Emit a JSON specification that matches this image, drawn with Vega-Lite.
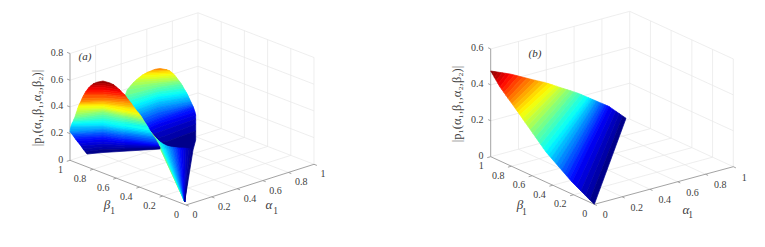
{"$schema":"https://vega.github.io/schema/vega-lite/v6.json","width":765,"height":247,"padding":0,"autosize":{"type":"fit","contains":"padding"},"background":"white","config":{"view":{"stroke":null}},
"datasets":{
"lines":[
{"p":"a","k":"g","a1":0.2,"b1":0,"z1":0,"a2":0.2,"b2":1,"z2":0},{"p":"a","k":"g","a1":0.4,"b1":0,"z1":0,"a2":0.4,"b2":1,"z2":0},{"p":"a","k":"g","a1":0.6,"b1":0,"z1":0,"a2":0.6,"b2":1,"z2":0},{"p":"a","k":"g","a1":0.8,"b1":0,"z1":0,"a2":0.8,"b2":1,"z2":0},
{"p":"a","k":"g","a1":0,"b1":0.2,"z1":0,"a2":1,"b2":0.2,"z2":0},{"p":"a","k":"g","a1":0,"b1":0.4,"z1":0,"a2":1,"b2":0.4,"z2":0},{"p":"a","k":"g","a1":0,"b1":0.6,"z1":0,"a2":1,"b2":0.6,"z2":0},{"p":"a","k":"g","a1":0,"b1":0.8,"z1":0,"a2":1,"b2":0.8,"z2":0},
{"p":"a","k":"g","a1":0.2,"b1":1,"z1":0,"a2":0.2,"b2":1,"z2":0.8},{"p":"a","k":"g","a1":0.4,"b1":1,"z1":0,"a2":0.4,"b2":1,"z2":0.8},{"p":"a","k":"g","a1":0.6,"b1":1,"z1":0,"a2":0.6,"b2":1,"z2":0.8},{"p":"a","k":"g","a1":0.8,"b1":1,"z1":0,"a2":0.8,"b2":1,"z2":0.8},{"p":"a","k":"g","a1":1,"b1":1,"z1":0,"a2":1,"b2":1,"z2":0.8},
{"p":"a","k":"g","a1":0,"b1":1,"z1":0,"a2":1,"b2":1,"z2":0},{"p":"a","k":"g","a1":0,"b1":1,"z1":0.2,"a2":1,"b2":1,"z2":0.2},{"p":"a","k":"g","a1":0,"b1":1,"z1":0.4,"a2":1,"b2":1,"z2":0.4},{"p":"a","k":"g","a1":0,"b1":1,"z1":0.6,"a2":1,"b2":1,"z2":0.6},{"p":"a","k":"g","a1":0,"b1":1,"z1":0.8,"a2":1,"b2":1,"z2":0.8},
{"p":"a","k":"g","a1":1,"b1":0,"z1":0,"a2":1,"b2":0,"z2":0.8},{"p":"a","k":"g","a1":1,"b1":0.2,"z1":0,"a2":1,"b2":0.2,"z2":0.8},{"p":"a","k":"g","a1":1,"b1":0.4,"z1":0,"a2":1,"b2":0.4,"z2":0.8},{"p":"a","k":"g","a1":1,"b1":0.6,"z1":0,"a2":1,"b2":0.6,"z2":0.8},{"p":"a","k":"g","a1":1,"b1":0.8,"z1":0,"a2":1,"b2":0.8,"z2":0.8},
{"p":"a","k":"g","a1":1,"b1":0,"z1":0,"a2":1,"b2":1,"z2":0},{"p":"a","k":"g","a1":1,"b1":0,"z1":0.2,"a2":1,"b2":1,"z2":0.2},{"p":"a","k":"g","a1":1,"b1":0,"z1":0.4,"a2":1,"b2":1,"z2":0.4},{"p":"a","k":"g","a1":1,"b1":0,"z1":0.6,"a2":1,"b2":1,"z2":0.6},{"p":"a","k":"g","a1":1,"b1":0,"z1":0.8,"a2":1,"b2":1,"z2":0.8},
{"p":"b","k":"g","a1":0.2,"b1":0,"z1":0,"a2":0.2,"b2":1,"z2":0},{"p":"b","k":"g","a1":0.4,"b1":0,"z1":0,"a2":0.4,"b2":1,"z2":0},{"p":"b","k":"g","a1":0.6,"b1":0,"z1":0,"a2":0.6,"b2":1,"z2":0},{"p":"b","k":"g","a1":0.8,"b1":0,"z1":0,"a2":0.8,"b2":1,"z2":0},
{"p":"b","k":"g","a1":0,"b1":0.2,"z1":0,"a2":1,"b2":0.2,"z2":0},{"p":"b","k":"g","a1":0,"b1":0.4,"z1":0,"a2":1,"b2":0.4,"z2":0},{"p":"b","k":"g","a1":0,"b1":0.6,"z1":0,"a2":1,"b2":0.6,"z2":0},{"p":"b","k":"g","a1":0,"b1":0.8,"z1":0,"a2":1,"b2":0.8,"z2":0},
{"p":"b","k":"g","a1":0.2,"b1":1,"z1":0,"a2":0.2,"b2":1,"z2":0.6},{"p":"b","k":"g","a1":0.4,"b1":1,"z1":0,"a2":0.4,"b2":1,"z2":0.6},{"p":"b","k":"g","a1":0.6,"b1":1,"z1":0,"a2":0.6,"b2":1,"z2":0.6},{"p":"b","k":"g","a1":0.8,"b1":1,"z1":0,"a2":0.8,"b2":1,"z2":0.6},{"p":"b","k":"g","a1":1,"b1":1,"z1":0,"a2":1,"b2":1,"z2":0.6},
{"p":"b","k":"g","a1":0,"b1":1,"z1":0,"a2":1,"b2":1,"z2":0},{"p":"b","k":"g","a1":0,"b1":1,"z1":0.2,"a2":1,"b2":1,"z2":0.2},{"p":"b","k":"g","a1":0,"b1":1,"z1":0.4,"a2":1,"b2":1,"z2":0.4},{"p":"b","k":"g","a1":0,"b1":1,"z1":0.6,"a2":1,"b2":1,"z2":0.6},
{"p":"b","k":"g","a1":1,"b1":0,"z1":0,"a2":1,"b2":0,"z2":0.6},{"p":"b","k":"g","a1":1,"b1":0.2,"z1":0,"a2":1,"b2":0.2,"z2":0.6},{"p":"b","k":"g","a1":1,"b1":0.4,"z1":0,"a2":1,"b2":0.4,"z2":0.6},{"p":"b","k":"g","a1":1,"b1":0.6,"z1":0,"a2":1,"b2":0.6,"z2":0.6},{"p":"b","k":"g","a1":1,"b1":0.8,"z1":0,"a2":1,"b2":0.8,"z2":0.6},
{"p":"b","k":"g","a1":1,"b1":0,"z1":0,"a2":1,"b2":1,"z2":0},{"p":"b","k":"g","a1":1,"b1":0,"z1":0.2,"a2":1,"b2":1,"z2":0.2},{"p":"b","k":"g","a1":1,"b1":0,"z1":0.4,"a2":1,"b2":1,"z2":0.4},{"p":"b","k":"g","a1":1,"b1":0,"z1":0.6,"a2":1,"b2":1,"z2":0.6},
{"p":"a","k":"t","a1":0,"b1":0,"z1":0,"a2":1,"b2":0,"z2":0},{"p":"a","k":"t","a1":0,"b1":0,"z1":0,"a2":0,"b2":1,"z2":0},{"p":"a","k":"t","a1":0,"b1":1,"z1":0,"a2":0,"b2":1,"z2":0.8},
{"p":"a","k":"t","a1":0,"b1":0,"z1":0,"a2":0,"b2":-0.025,"z2":0},{"p":"a","k":"t","a1":0.2,"b1":0,"z1":0,"a2":0.2,"b2":-0.025,"z2":0},{"p":"a","k":"t","a1":0.4,"b1":0,"z1":0,"a2":0.4,"b2":-0.025,"z2":0},{"p":"a","k":"t","a1":0.6,"b1":0,"z1":0,"a2":0.6,"b2":-0.025,"z2":0},{"p":"a","k":"t","a1":0.8,"b1":0,"z1":0,"a2":0.8,"b2":-0.025,"z2":0},{"p":"a","k":"t","a1":1,"b1":0,"z1":0,"a2":1,"b2":-0.025,"z2":0},
{"p":"a","k":"t","a1":0,"b1":0.2,"z1":0,"a2":-0.025,"b2":0.2,"z2":0},{"p":"a","k":"t","a1":0,"b1":0.4,"z1":0,"a2":-0.025,"b2":0.4,"z2":0},{"p":"a","k":"t","a1":0,"b1":0.6,"z1":0,"a2":-0.025,"b2":0.6,"z2":0},{"p":"a","k":"t","a1":0,"b1":0.8,"z1":0,"a2":-0.025,"b2":0.8,"z2":0},{"p":"a","k":"t","a1":0,"b1":1,"z1":0,"a2":-0.025,"b2":1,"z2":0},
{"p":"a","k":"t","a1":0,"b1":1,"z1":0.2,"a2":0,"b2":1.025,"z2":0.2},{"p":"a","k":"t","a1":0,"b1":1,"z1":0.4,"a2":0,"b2":1.025,"z2":0.4},{"p":"a","k":"t","a1":0,"b1":1,"z1":0.6,"a2":0,"b2":1.025,"z2":0.6},{"p":"a","k":"t","a1":0,"b1":1,"z1":0.8,"a2":0,"b2":1.025,"z2":0.8},
{"p":"b","k":"t","a1":0,"b1":0,"z1":0,"a2":1,"b2":0,"z2":0},{"p":"b","k":"t","a1":0,"b1":0,"z1":0,"a2":0,"b2":1,"z2":0},{"p":"b","k":"t","a1":0,"b1":1,"z1":0,"a2":0,"b2":1,"z2":0.6},
{"p":"b","k":"t","a1":0,"b1":0,"z1":0,"a2":0,"b2":-0.025,"z2":0},{"p":"b","k":"t","a1":0.2,"b1":0,"z1":0,"a2":0.2,"b2":-0.025,"z2":0},{"p":"b","k":"t","a1":0.4,"b1":0,"z1":0,"a2":0.4,"b2":-0.025,"z2":0},{"p":"b","k":"t","a1":0.6,"b1":0,"z1":0,"a2":0.6,"b2":-0.025,"z2":0},{"p":"b","k":"t","a1":0.8,"b1":0,"z1":0,"a2":0.8,"b2":-0.025,"z2":0},{"p":"b","k":"t","a1":1,"b1":0,"z1":0,"a2":1,"b2":-0.025,"z2":0},
{"p":"b","k":"t","a1":0,"b1":0.2,"z1":0,"a2":-0.025,"b2":0.2,"z2":0},{"p":"b","k":"t","a1":0,"b1":0.4,"z1":0,"a2":-0.025,"b2":0.4,"z2":0},{"p":"b","k":"t","a1":0,"b1":0.6,"z1":0,"a2":-0.025,"b2":0.6,"z2":0},{"p":"b","k":"t","a1":0,"b1":0.8,"z1":0,"a2":-0.025,"b2":0.8,"z2":0},{"p":"b","k":"t","a1":0,"b1":1,"z1":0,"a2":-0.025,"b2":1,"z2":0},
{"p":"b","k":"t","a1":0,"b1":1,"z1":0.2,"a2":0,"b2":1.025,"z2":0.2},{"p":"b","k":"t","a1":0,"b1":1,"z1":0.4,"a2":0,"b2":1.025,"z2":0.4},{"p":"b","k":"t","a1":0,"b1":1,"z1":0.6,"a2":0,"b2":1.025,"z2":0.6}
],
"ticks":[
{"p":"a","k":"alpha","a":0,"b":0,"z":0,"t":"0"},{"p":"a","k":"alpha","a":0.2,"b":0,"z":0,"t":"0.2"},{"p":"a","k":"alpha","a":0.4,"b":0,"z":0,"t":"0.4"},{"p":"a","k":"alpha","a":0.6,"b":0,"z":0,"t":"0.6"},{"p":"a","k":"alpha","a":0.8,"b":0,"z":0,"t":"0.8"},{"p":"a","k":"alpha","a":1,"b":0,"z":0,"t":"1"},
{"p":"a","k":"beta","a":0,"b":0,"z":0,"t":"0"},{"p":"a","k":"beta","a":0,"b":0.2,"z":0,"t":"0.2"},{"p":"a","k":"beta","a":0,"b":0.4,"z":0,"t":"0.4"},{"p":"a","k":"beta","a":0,"b":0.6,"z":0,"t":"0.6"},{"p":"a","k":"beta","a":0,"b":0.8,"z":0,"t":"0.8"},{"p":"a","k":"beta","a":0,"b":1,"z":0,"t":"1"},
{"p":"a","k":"z","a":0,"b":1,"z":0,"t":"0"},{"p":"a","k":"z","a":0,"b":1,"z":0.2,"t":"0.2"},{"p":"a","k":"z","a":0,"b":1,"z":0.4,"t":"0.4"},{"p":"a","k":"z","a":0,"b":1,"z":0.6,"t":"0.6"},{"p":"a","k":"z","a":0,"b":1,"z":0.8,"t":"0.8"},
{"p":"b","k":"alpha","a":0,"b":0,"z":0,"t":"0"},{"p":"b","k":"alpha","a":0.2,"b":0,"z":0,"t":"0.2"},{"p":"b","k":"alpha","a":0.4,"b":0,"z":0,"t":"0.4"},{"p":"b","k":"alpha","a":0.6,"b":0,"z":0,"t":"0.6"},{"p":"b","k":"alpha","a":0.8,"b":0,"z":0,"t":"0.8"},{"p":"b","k":"alpha","a":1,"b":0,"z":0,"t":"1"},
{"p":"b","k":"beta","a":0,"b":0,"z":0,"t":"0"},{"p":"b","k":"beta","a":0,"b":0.2,"z":0,"t":"0.2"},{"p":"b","k":"beta","a":0,"b":0.4,"z":0,"t":"0.4"},{"p":"b","k":"beta","a":0,"b":0.6,"z":0,"t":"0.6"},{"p":"b","k":"beta","a":0,"b":0.8,"z":0,"t":"0.8"},{"p":"b","k":"beta","a":0,"b":1,"z":0,"t":"1"},
{"p":"b","k":"z","a":0,"b":1,"z":0,"t":"0"},{"p":"b","k":"z","a":0,"b":1,"z":0.2,"t":"0.2"},{"p":"b","k":"z","a":0,"b":1,"z":0.4,"t":"0.4"},{"p":"b","k":"z","a":0,"b":1,"z":0.6,"t":"0.6"}
],
"surface":[
{"c":0.74,"g":{"type":"Polygon","coordinates":[[[152,70.5],[155,69.3],[160,68.5],[167,69.8],[158,70.5],[152,70.5]]]}},
{"c":0.69,"g":{"type":"Polygon","coordinates":[[[152,70.5],[158,70.5],[167,69.8],[170,71],[158,72],[147,72.5],[152,70.5]]]}},
{"c":0.66,"g":{"type":"Polygon","coordinates":[[[147,72.5],[158,72],[170,71],[172,72.7],[158,73.5],[144.5,74],[147,72.5]]]}},
{"c":0.64,"g":{"type":"Polygon","coordinates":[[[144.5,74],[158,73.5],[172,72.7],[173.5,74],[158,75],[142,75.3],[144.5,74]]]}},
{"c":0.61,"g":{"type":"Polygon","coordinates":[[[142,75.3],[158,75],[173.5,74],[175,75.5],[158,77],[138,78.5],[142,75.3]]]}},
{"c":0.59,"g":{"type":"Polygon","coordinates":[[[138,78.5],[158,77],[175,75.5],[176.5,77.5],[158,79],[136,80.2],[138,78.5]]]}},
{"c":0.56,"g":{"type":"Polygon","coordinates":[[[136,80.2],[158,79],[176.5,77.5],[178,79.5],[158,81],[133,83],[136,80.2]]]}},
{"c":0.54,"g":{"type":"Polygon","coordinates":[[[133,83],[158,81],[178,79.5],[179,80.8],[158,83],[130,86.5],[133,83]]]}},
{"c":0.51,"g":{"type":"Polygon","coordinates":[[[130,86.5],[158,83],[179,80.8],[180,82],[158,85],[127,90.3],[130,86.5]]]}},
{"c":0.49,"g":{"type":"Polygon","coordinates":[[[127,90.3],[158,85],[180,82],[181.3,84],[158,87.4],[125,96],[127,90.3]]]}},
{"c":0.46,"g":{"type":"Polygon","coordinates":[[[125,96],[158,87.4],[181.3,84],[182.6,86],[158,89.8],[125,99],[125,96]]]}},
{"c":0.44,"g":{"type":"Polygon","coordinates":[[[125,99],[158,89.8],[182.6,86],[184,88.6],[158,92.2],[125,102],[125,99]]]}},
{"c":0.41,"g":{"type":"Polygon","coordinates":[[[125,102],[158,92.2],[184,88.6],[185.3,90.8],[158,94.6],[125,105],[125,102]]]}},
{"c":0.39,"g":{"type":"Polygon","coordinates":[[[125,105],[158,94.6],[185.3,90.8],[186.7,93],[158,97],[125,108],[125,105]]]}},
{"c":0.36,"g":{"type":"Polygon","coordinates":[[[125,108],[158,97],[186.7,93],[187.7,95],[158,99.6],[125,111],[125,108]]]}},
{"c":0.34,"g":{"type":"Polygon","coordinates":[[[125,111],[158,99.6],[187.7,95],[188.7,97.2],[158,102.2],[125,114],[125,111]]]}},
{"c":0.31,"g":{"type":"Polygon","coordinates":[[[125,114],[158,102.2],[188.7,97.2],[189.7,99.3],[158,104.8],[125,117],[125,114]]]}},
{"c":0.29,"g":{"type":"Polygon","coordinates":[[[125,117],[158,104.8],[189.7,99.3],[190.7,101.5],[158,107.4],[125,120],[125,117]]]}},
{"c":0.26,"g":{"type":"Polygon","coordinates":[[[125,120],[158,107.4],[190.7,101.5],[191.5,103.2],[158,110],[125,123],[125,120]]]}},
{"c":0.24,"g":{"type":"Polygon","coordinates":[[[125,123],[158,110],[191.5,103.2],[192.2,104.7],[158,112.8],[125,126],[125,123]]]}},
{"c":0.21,"g":{"type":"Polygon","coordinates":[[[125,126],[158,112.8],[192.2,104.7],[192.8,106],[158,115.6],[125,129],[125,126]]]}},
{"c":0.19,"g":{"type":"Polygon","coordinates":[[[125,129],[158,115.6],[192.8,106],[193.3,107],[158,118.4],[125,132],[125,129]]]}},
{"c":0.16,"g":{"type":"Polygon","coordinates":[[[125,132],[158,118.4],[193.3,107],[194,109],[158,121.2],[125,135],[125,132]]]}},
{"c":0.14,"g":{"type":"Polygon","coordinates":[[[125,135],[158,121.2],[194,109],[195,112],[158,124],[125,138],[125,135]]]}},
{"c":0.11,"g":{"type":"Polygon","coordinates":[[[125,138],[158,124],[195,112],[195.7,115],[160,127],[125,141],[125,138]]]}},
{"c":0.09,"g":{"type":"Polygon","coordinates":[[[125,141],[160,127],[195.7,115],[195.7,119],[162,131],[125,144],[125,141]]]}},
{"c":0.06,"g":{"type":"Polygon","coordinates":[[[125,144],[162,131],[195.7,119],[195.7,124],[165,136],[125,147],[125,144]]]}},
{"c":0.04,"g":{"type":"Polygon","coordinates":[[[125,147],[165,136],[195.7,124],[195.7,131],[168,141],[125,150],[125,147]]]}},
{"c":0.01,"g":{"type":"Polygon","coordinates":[[[125,150],[168,141],[195.7,131],[195.7,140],[193,150],[170,148],[125,150]]]}},
{"c":0.56,"g":{"type":"Polygon","coordinates":[[[150,131],[163,153],[176.7,180],[184.7,201.7],[155,137],[150,131]]]}},
{"c":0.48,"g":{"type":"Polygon","coordinates":[[[184.7,201.7],[155,137],[157,139],[184.7,201.7]]]}},
{"c":0.43,"g":{"type":"Polygon","coordinates":[[[184.7,201.7],[157,139],[159,141],[184.7,201.7]]]}},
{"c":0.39,"g":{"type":"Polygon","coordinates":[[[184.7,201.7],[159,141],[161,142.7],[184.7,201.7]]]}},
{"c":0.36,"g":{"type":"Polygon","coordinates":[[[184.7,201.7],[161,142.7],[163,144],[184.7,201.7]]]}},
{"c":0.34,"g":{"type":"Polygon","coordinates":[[[184.7,201.7],[163,144],[165,145],[184.7,201.7]]]}},
{"c":0.31,"g":{"type":"Polygon","coordinates":[[[184.7,201.7],[165,145],[167,146],[184.7,201.7]]]}},
{"c":0.29,"g":{"type":"Polygon","coordinates":[[[184.7,201.7],[167,146],[169,146.6],[184.7,201.7]]]}},
{"c":0.26,"g":{"type":"Polygon","coordinates":[[[184.7,201.7],[169,146.6],[171,147],[184.7,201.7]]]}},
{"c":0.24,"g":{"type":"Polygon","coordinates":[[[184.7,201.7],[171,147],[173,147.3],[184.7,201.7]]]}},
{"c":0.21,"g":{"type":"Polygon","coordinates":[[[184.7,201.7],[173,147.3],[175,147.5],[184.7,201.7]]]}},
{"c":0.19,"g":{"type":"Polygon","coordinates":[[[184.7,201.7],[175,147.5],[177,147.8],[184.7,201.7]]]}},
{"c":0.16,"g":{"type":"Polygon","coordinates":[[[184.7,201.7],[177,147.8],[179,148],[184.7,201.7]]]}},
{"c":0.14,"g":{"type":"Polygon","coordinates":[[[184.7,201.7],[179,148],[181,148],[184.7,201.7]]]}},
{"c":0.11,"g":{"type":"Polygon","coordinates":[[[184.7,201.7],[181,148],[183.5,148],[184.7,201.7]]]}},
{"c":0.09,"g":{"type":"Polygon","coordinates":[[[184.7,201.7],[183.5,148],[186,148.3],[184.7,201.7]]]}},
{"c":0.06,"g":{"type":"Polygon","coordinates":[[[184.7,201.7],[186,148.3],[188.5,148.6],[184.7,201.7]]]}},
{"c":0.04,"g":{"type":"Polygon","coordinates":[[[184.7,201.7],[188.5,148.6],[191,149],[184.7,201.7]]]}},
{"c":0.01,"g":{"type":"Polygon","coordinates":[[[184.7,201.7],[191,149],[193,150],[184.7,201.7]]]}},
{"c":0.98,"g":{"type":"Polygon","coordinates":[[[96.7,82.3],[103,81],[110,83],[114,85],[103,83.5],[93,84],[96.7,82.3]]]}},
{"c":0.945,"g":{"type":"Polygon","coordinates":[[[93,84],[103,83.5],[114,85],[117,87.5],[103,85.5],[90.5,86],[93,84]]]}},
{"c":0.915,"g":{"type":"Polygon","coordinates":[[[90.5,86],[103,85.5],[117,87.5],[120,90],[103,87.5],[88.5,88],[90.5,86]]]}},
{"c":0.89,"g":{"type":"Polygon","coordinates":[[[88.5,88],[103,87.5],[120,90],[122,92.5],[103,90],[87,90],[88.5,88]]]}},
{"c":0.86,"g":{"type":"Polygon","coordinates":[[[87,90],[103,90],[122,92.5],[124.5,94.5],[103,92],[85.5,92],[87,90]]]}},
{"c":0.84,"g":{"type":"Polygon","coordinates":[[[85.5,92],[103,92],[124.5,94.5],[126,96.5],[103,94],[84.5,94],[85.5,92]]]}},
{"c":0.81,"g":{"type":"Polygon","coordinates":[[[84.5,94],[103,94],[126,96.5],[127,98],[103,95.5],[83.5,95.5],[84.5,94]]]}},
{"c":0.79,"g":{"type":"Polygon","coordinates":[[[83.5,95.5],[103,95.5],[127,98],[128.5,100],[103,98],[82,98.5],[83.5,95.5]]]}},
{"c":0.76,"g":{"type":"Polygon","coordinates":[[[82,98.5],[103,98],[128.5,100],[130,101.7],[103,100],[81,101],[82,98.5]]]}},
{"c":0.74,"g":{"type":"Polygon","coordinates":[[[81,101],[103,100],[130,101.7],[131.5,103.5],[103,101.3],[80.3,102.5],[81,101]]]}},
{"c":0.71,"g":{"type":"Polygon","coordinates":[[[80.3,102.5],[103,101.3],[131.5,103.5],[133,106],[103,102.5],[79.8,103.5],[80.3,102.5]]]}},
{"c":0.69,"g":{"type":"Polygon","coordinates":[[[79.8,103.5],[103,102.5],[133,106],[134.5,108],[103,104],[79.3,104.5],[79.8,103.5]]]}},
{"c":0.66,"g":{"type":"Polygon","coordinates":[[[79.3,104.5],[103,104],[134.5,108],[136,110],[103,105],[78.8,105.6],[79.3,104.5]]]}},
{"c":0.64,"g":{"type":"Polygon","coordinates":[[[78.8,105.6],[103,105],[136,110],[139,113.5],[103,106.5],[78.3,106.7],[78.8,105.6]]]}},
{"c":0.61,"g":{"type":"Polygon","coordinates":[[[78.3,106.7],[103,106.5],[139,113.5],[140.5,115.5],[103,108],[77.6,108.7],[78.3,106.7]]]}},
{"c":0.59,"g":{"type":"Polygon","coordinates":[[[77.6,108.7],[103,108],[140.5,115.5],[141.5,117],[103,109.3],[77,110.7],[77.6,108.7]]]}},
{"c":0.56,"g":{"type":"Polygon","coordinates":[[[77,110.7],[103,109.3],[141.5,117],[142.5,118.5],[103,110.5],[76.3,112.7],[77,110.7]]]}},
{"c":0.54,"g":{"type":"Polygon","coordinates":[[[76.3,112.7],[103,110.5],[142.5,118.5],[143.3,120],[103,111.7],[75.7,114.7],[76.3,112.7]]]}},
{"c":0.51,"g":{"type":"Polygon","coordinates":[[[75.7,114.7],[103,111.7],[143.3,120],[144,121],[103,113],[75,116.7],[75.7,114.7]]]}},
{"c":0.49,"g":{"type":"Polygon","coordinates":[[[75,116.7],[103,113],[144,121],[145,122.5],[103,115],[74.3,118.5],[75,116.7]]]}},
{"c":0.46,"g":{"type":"Polygon","coordinates":[[[74.3,118.5],[103,115],[145,122.5],[146,124],[103,117],[73.6,120],[74.3,118.5]]]}},
{"c":0.44,"g":{"type":"Polygon","coordinates":[[[73.6,120],[103,117],[146,124],[147,125.5],[103,119],[73,121.5],[73.6,120]]]}},
{"c":0.41,"g":{"type":"Polygon","coordinates":[[[73,121.5],[103,119],[147,125.5],[148,127],[103,121],[72.4,122.5],[73,121.5]]]}},
{"c":0.39,"g":{"type":"Polygon","coordinates":[[[72.4,122.5],[103,121],[148,127],[150,131],[103,123],[71.8,124],[72.4,122.5]]]}},
{"c":0.36,"g":{"type":"Polygon","coordinates":[[[71.8,124],[103,123],[150,131],[151,132.5],[103,125],[71.3,125.5],[71.8,124]]]}},
{"c":0.34,"g":{"type":"Polygon","coordinates":[[[71.3,125.5],[103,125],[151,132.5],[152,134],[103,126.5],[70.8,127],[71.3,125.5]]]}},
{"c":0.31,"g":{"type":"Polygon","coordinates":[[[70.8,127],[103,126.5],[152,134],[153,135.5],[103,128],[70.4,129],[70.8,127]]]}},
{"c":0.29,"g":{"type":"Polygon","coordinates":[[[70.4,129],[103,128],[153,135.5],[154,137],[103,129.5],[70,131.7],[70.4,129]]]}},
{"c":0.26,"g":{"type":"Polygon","coordinates":[[[70,131.7],[103,129.5],[154,137],[155,138.3],[103,131],[71,133],[70,131.7]]]}},
{"c":0.24,"g":{"type":"Polygon","coordinates":[[[71,133],[103,131],[155,138.3],[156,140],[103,132.5],[72,134.3],[71,133]]]}},
{"c":0.21,"g":{"type":"Polygon","coordinates":[[[72,134.3],[103,132.5],[156,140],[157,142],[103,134],[73,135.6],[72,134.3]]]}},
{"c":0.19,"g":{"type":"Polygon","coordinates":[[[73,135.6],[103,134],[157,142],[158,143.5],[103,136],[74.2,137.2],[73,135.6]]]}},
{"c":0.16,"g":{"type":"Polygon","coordinates":[[[74.2,137.2],[103,136],[158,143.5],[158.5,145],[103,137.5],[75.5,139],[74.2,137.2]]]}},
{"c":0.14,"g":{"type":"Polygon","coordinates":[[[75.5,139],[103,137.5],[158.5,145],[159,146],[103,139.5],[77,141],[75.5,139]]]}},
{"c":0.11,"g":{"type":"Polygon","coordinates":[[[77,141],[103,139.5],[159,146],[159.3,146.5],[103,142],[79,143.5],[77,141]]]}},
{"c":0.09,"g":{"type":"Polygon","coordinates":[[[79,143.5],[103,142],[159.3,146.5],[159.6,147],[103,144.5],[81,146],[79,143.5]]]}},
{"c":0.06,"g":{"type":"Polygon","coordinates":[[[81,146],[103,144.5],[159.6,147],[160,147.5],[103,147],[83,149],[81,146]]]}},
{"c":0.04,"g":{"type":"Polygon","coordinates":[[[83,149],[103,147],[160,147.5],[160,148],[103,149.5],[85,151.5],[83,149]]]}},
{"c":0.01,"g":{"type":"Polygon","coordinates":[[[85,151.5],[103,149.5],[160,148],[160,149],[103,152.5],[87,154],[85,151.5]]]}},
{"c":0.99,"g":{"type":"Polygon","coordinates":[[[490.7,71],[494.6,71.6],[492.6,74.2],[490.7,71]]]}},
{"c":0.96,"g":{"type":"Polygon","coordinates":[[[494.6,71.6],[498.4,72.2],[494.4,77.4],[492.6,74.2],[494.6,71.6]]]}},
{"c":0.94,"g":{"type":"Polygon","coordinates":[[[498.4,72.2],[502.3,72.8],[496.3,80.6],[494.4,77.4],[498.4,72.2]]]}},
{"c":0.91,"g":{"type":"Polygon","coordinates":[[[502.3,72.8],[506.1,73.4],[498.1,83.8],[496.3,80.6],[502.3,72.8]]]}},
{"c":0.89,"g":{"type":"Polygon","coordinates":[[[506.1,73.4],[510,74],[500,87],[498.1,83.8],[506.1,73.4]]]}},
{"c":0.86,"g":{"type":"Polygon","coordinates":[[[510,74],[514.3,75],[502,89.8],[500,87],[510,74]]]}},
{"c":0.84,"g":{"type":"Polygon","coordinates":[[[514.3,75],[518.5,76.1],[504,92.6],[502,89.8],[514.3,75]]]}},
{"c":0.81,"g":{"type":"Polygon","coordinates":[[[518.5,76.1],[522.8,77.2],[506,95.4],[504,92.6],[518.5,76.1]]]}},
{"c":0.79,"g":{"type":"Polygon","coordinates":[[[522.8,77.2],[527.1,78.3],[508,98.2],[506,95.4],[522.8,77.2]]]}},
{"c":0.76,"g":{"type":"Polygon","coordinates":[[[527.1,78.3],[531.4,79.4],[510,101],[508,98.2],[527.1,78.3]]]}},
{"c":0.74,"g":{"type":"Polygon","coordinates":[[[531.4,79.4],[535.6,80.4],[512,103.8],[510,101],[531.4,79.4]]]}},
{"c":0.71,"g":{"type":"Polygon","coordinates":[[[535.6,80.4],[539.9,81.4],[514,106.6],[512,103.8],[535.6,80.4]]]}},
{"c":0.69,"g":{"type":"Polygon","coordinates":[[[539.9,81.4],[544.2,82.4],[516,109.4],[514,106.6],[539.9,81.4]]]}},
{"c":0.66,"g":{"type":"Polygon","coordinates":[[[544.2,82.4],[548.4,83.6],[518,112.2],[516,109.4],[544.2,82.4]]]}},
{"c":0.64,"g":{"type":"Polygon","coordinates":[[[548.4,83.6],[552.7,85],[520,115],[518,112.2],[548.4,83.6]]]}},
{"c":0.61,"g":{"type":"Polygon","coordinates":[[[552.7,85],[556.2,86.2],[522.6,118.7],[520,115],[552.7,85]]]}},
{"c":0.59,"g":{"type":"Polygon","coordinates":[[[556.2,86.2],[559.8,87.4],[525.2,122.4],[522.6,118.7],[556.2,86.2]]]}},
{"c":0.56,"g":{"type":"Polygon","coordinates":[[[559.8,87.4],[563.3,88.5],[527.8,126.1],[525.2,122.4],[559.8,87.4]]]}},
{"c":0.54,"g":{"type":"Polygon","coordinates":[[[563.3,88.5],[566.8,89.6],[530.4,129.8],[527.8,126.1],[563.3,88.5]]]}},
{"c":0.51,"g":{"type":"Polygon","coordinates":[[[566.8,89.6],[570.4,90.7],[533,133.5],[530.4,129.8],[566.8,89.6]]]}},
{"c":0.49,"g":{"type":"Polygon","coordinates":[[[570.4,90.7],[573.9,91.9],[535.6,137.2],[533,133.5],[570.4,90.7]]]}},
{"c":0.46,"g":{"type":"Polygon","coordinates":[[[573.9,91.9],[577.4,93],[538.2,140.9],[535.6,137.2],[573.9,91.9]]]}},
{"c":0.44,"g":{"type":"Polygon","coordinates":[[[577.4,93],[580.9,94.4],[540.8,144.6],[538.2,140.9],[577.4,93]]]}},
{"c":0.41,"g":{"type":"Polygon","coordinates":[[[580.9,94.4],[584.5,96],[543.4,148.3],[540.8,144.6],[580.9,94.4]]]}},
{"c":0.39,"g":{"type":"Polygon","coordinates":[[[584.5,96],[588,97.5],[546,152],[543.4,148.3],[584.5,96]]]}},
{"c":0.36,"g":{"type":"Polygon","coordinates":[[[588,97.5],[590.1,98.4],[548.6,155],[546,152],[588,97.5]]]}},
{"c":0.34,"g":{"type":"Polygon","coordinates":[[[590.1,98.4],[592.2,99.3],[551.2,158],[548.6,155],[590.1,98.4]]]}},
{"c":0.31,"g":{"type":"Polygon","coordinates":[[[592.2,99.3],[594.3,100.2],[553.8,161],[551.2,158],[592.2,99.3]]]}},
{"c":0.29,"g":{"type":"Polygon","coordinates":[[[594.3,100.2],[596.4,101.1],[556.4,164],[553.8,161],[594.3,100.2]]]}},
{"c":0.26,"g":{"type":"Polygon","coordinates":[[[596.4,101.1],[598.5,102],[559,167],[556.4,164],[596.4,101.1]]]}},
{"c":0.24,"g":{"type":"Polygon","coordinates":[[[598.5,102],[600.6,102.9],[561.6,170],[559,167],[598.5,102]]]}},
{"c":0.21,"g":{"type":"Polygon","coordinates":[[[600.6,102.9],[602.7,103.8],[564.2,173],[561.6,170],[600.6,102.9]]]}},
{"c":0.19,"g":{"type":"Polygon","coordinates":[[[602.7,103.8],[604.8,104.7],[566.8,176],[564.2,173],[602.7,103.8]]]}},
{"c":0.16,"g":{"type":"Polygon","coordinates":[[[604.8,104.7],[606.9,105.6],[569.4,179],[566.8,176],[604.8,104.7]]]}},
{"c":0.14,"g":{"type":"Polygon","coordinates":[[[606.9,105.6],[609,106.5],[572,182],[569.4,179],[606.9,105.6]]]}},
{"c":0.11,"g":{"type":"Polygon","coordinates":[[[609,106.5],[612.4,108.9],[576.5,186.5],[572,182],[609,106.5]]]}},
{"c":0.09,"g":{"type":"Polygon","coordinates":[[[612.4,108.9],[615.8,111.2],[580.9,190.9],[576.5,186.5],[612.4,108.9]]]}},
{"c":0.06,"g":{"type":"Polygon","coordinates":[[[615.8,111.2],[619.2,113.6],[585.4,195.4],[580.9,190.9],[615.8,111.2]]]}},
{"c":0.04,"g":{"type":"Polygon","coordinates":[[[619.2,113.6],[622.6,115.9],[589.8,199.9],[585.4,195.4],[619.2,113.6]]]}},
{"c":0.01,"g":{"type":"Polygon","coordinates":[[[622.6,115.9],[626,118.3],[594.3,204.3],[589.8,199.9],[622.6,115.9]]]}}
]},
"encoding":{"x":{"type":"quantitative","scale":{"domain":[0,765],"nice":false,"zero":false},"axis":null},"y":{"type":"quantitative","scale":{"domain":[247,0],"nice":false,"zero":false},"axis":null}},
"layer":[
{"data":{"name":"lines"},"transform":[{"filter":"datum.k=='g'"},
{"calculate":"datum.p=='a'?186+128*datum.a1-116*datum.b1:594.3+139*datum.a1-103.6*datum.b1","as":"px"},
{"calculate":"datum.p=='a'?205-40.7*datum.a1-44.7*datum.b1-133.5*datum.z1:204.3-37.6*datum.a1-47.6*datum.b1-179.6*datum.z1","as":"py"},
{"calculate":"datum.p=='a'?186+128*datum.a2-116*datum.b2:594.3+139*datum.a2-103.6*datum.b2","as":"px2"},
{"calculate":"datum.p=='a'?205-40.7*datum.a2-44.7*datum.b2-133.5*datum.z2:204.3-37.6*datum.a2-47.6*datum.b2-179.6*datum.z2","as":"py2"}],
"mark":{"type":"rule","stroke":"#e6e6e6","strokeWidth":0.7},"encoding":{"x":{"field":"px"},"y":{"field":"py"},"x2":{"field":"px2"},"y2":{"field":"py2"}}},
{"data":{"name":"lines"},"transform":[{"filter":"datum.k=='t'"},
{"calculate":"datum.p=='a'?186+128*datum.a1-116*datum.b1:594.3+139*datum.a1-103.6*datum.b1","as":"px"},
{"calculate":"datum.p=='a'?205-40.7*datum.a1-44.7*datum.b1-133.5*datum.z1:204.3-37.6*datum.a1-47.6*datum.b1-179.6*datum.z1","as":"py"},
{"calculate":"datum.p=='a'?186+128*datum.a2-116*datum.b2:594.3+139*datum.a2-103.6*datum.b2","as":"px2"},
{"calculate":"datum.p=='a'?205-40.7*datum.a2-44.7*datum.b2-133.5*datum.z2:204.3-37.6*datum.a2-47.6*datum.b2-179.6*datum.z2","as":"py2"}],
"mark":{"type":"rule","stroke":"#999999","strokeWidth":0.9},"encoding":{"x":{"field":"px"},"y":{"field":"py"},"x2":{"field":"px2"},"y2":{"field":"py2"}}},
{"data":{"name":"surface"},"projection":{"type":"identity","scale":1,"translate":[0,0]},"mark":{"type":"geoshape","strokeWidth":0.7},"encoding":{"x":null,"y":null,"shape":{"field":"g","type":"geojson"},
"fill":{"field":"c","type":"quantitative","legend":null,"scale":{"domain":[0,0.125,0.375,0.625,0.875,1],"range":["#000080","#0000ff","#00ffff","#ffff00","#ff0000","#800000"],"interpolate":"rgb"}},
"stroke":{"field":"c","type":"quantitative","legend":null,"scale":{"domain":[0,0.125,0.375,0.625,0.875,1],"range":["#000080","#0000ff","#00ffff","#ffff00","#ff0000","#800000"],"interpolate":"rgb"}}}},
{"data":{"name":"ticks"},"transform":[{"filter":"datum.k=='alpha'"},
{"calculate":"(datum.p=='a'?186+128*datum.a-116*datum.b+6.5:594.3+139*datum.a-103.6*datum.b+8.5)","as":"px"},
{"calculate":"(datum.p=='a'?205-40.7*datum.a-44.7*datum.b-133.5*datum.z+10:204.3-37.6*datum.a-47.6*datum.b-179.6*datum.z+11)","as":"py"}],
"mark":{"type":"text","font":"Liberation Serif","fontSize":10,"fill":"#404040","align":"left","baseline":"middle"},"encoding":{"x":{"field":"px"},"y":{"field":"py"},"text":{"field":"t"}}},
{"data":{"name":"ticks"},"transform":[{"filter":"datum.k=='beta'"},
{"calculate":"(datum.p=='a'?186+128*datum.a-116*datum.b-7:594.3+139*datum.a-103.6*datum.b-7)","as":"px"},
{"calculate":"(datum.p=='a'?205-40.7*datum.a-44.7*datum.b-133.5*datum.z+9.8:204.3-37.6*datum.a-47.6*datum.b-179.6*datum.z+9.5)","as":"py"}],
"mark":{"type":"text","font":"Liberation Serif","fontSize":10,"fill":"#404040","align":"right","baseline":"middle"},"encoding":{"x":{"field":"px"},"y":{"field":"py"},"text":{"field":"t"}}},
{"data":{"name":"ticks"},"transform":[{"filter":"datum.k=='z'"},
{"calculate":"(datum.p=='a'?186+128*datum.a-116*datum.b-6.7:594.3+139*datum.a-103.6*datum.b-7.3)","as":"px"},
{"calculate":"(datum.p=='a'?205-40.7*datum.a-44.7*datum.b-133.5*datum.z-0.5:204.3-37.6*datum.a-47.6*datum.b-179.6*datum.z-0.5)","as":"py"}],
"mark":{"type":"text","font":"Liberation Serif","fontSize":10,"fill":"#404040","align":"right","baseline":"middle"},"encoding":{"x":{"field":"px"},"y":{"field":"py"},"text":{"field":"t"}}},
{"data":{"values":[{"x":107,"y":205,"t":"β"},{"x":269,"y":205,"t":"α"},{"x":520,"y":205,"t":"β"},{"x":686,"y":210,"t":"α"}]},"mark":{"type":"text","font":"Liberation Serif","fontSize":13,"fontStyle":"italic","fill":"#404040","align":"center","baseline":"middle"},"encoding":{"x":{"field":"x"},"y":{"field":"y"},"text":{"field":"t"}}},
{"data":{"values":[{"x":112.5,"y":211,"t":"1"},{"x":275.7,"y":210.7,"t":"1"},{"x":524.3,"y":211.7,"t":"1"},{"x":690.7,"y":215,"t":"1"}]},"mark":{"type":"text","font":"Liberation Serif","fontSize":9.5,"fill":"#404040","align":"center","baseline":"middle"},"encoding":{"x":{"field":"x"},"y":{"field":"y"},"text":{"field":"t"}}},
{"data":{"values":[{"x":37,"y":108,"t":"|p₁(α₁,β₁,α₂,β₂)|"},{"x":457,"y":104,"t":"|p₁(α₁,β₁,α₂,β₂)|"}]},"mark":{"type":"text","font":"Liberation Serif","fontSize":12.5,"fill":"#404040","align":"center","baseline":"middle","angle":270},"encoding":{"x":{"field":"x"},"y":{"field":"y"},"text":{"field":"t"}}},
{"data":{"values":[{"x":85,"y":57.3,"t":"(a)"},{"x":535,"y":54.3,"t":"(b)"}]},"mark":{"type":"text","font":"Liberation Serif","fontSize":11,"fontStyle":"italic","fill":"#303030","align":"center","baseline":"middle"},"encoding":{"x":{"field":"x"},"y":{"field":"y"},"text":{"field":"t"}}}
]}
